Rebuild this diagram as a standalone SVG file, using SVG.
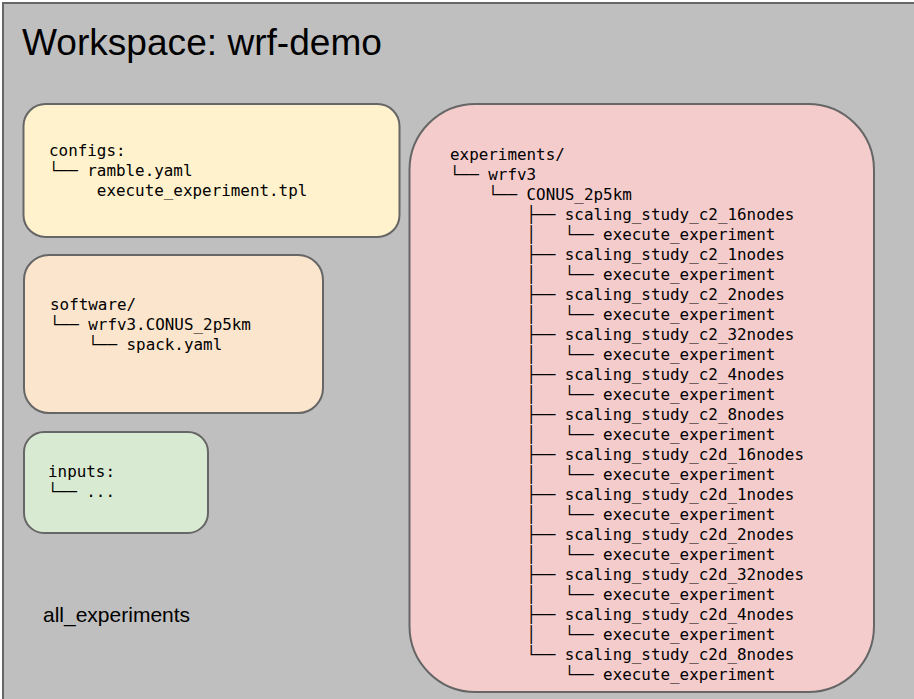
<svg xmlns="http://www.w3.org/2000/svg" width="914" height="699" viewBox="0 0 914 699">
  <style>
    .frame { fill: #bfbfbf; stroke: #666666; stroke-width: 2; }
    .box { stroke: #666666; stroke-width: 2; }
    .title { font-family: "Liberation Sans", Arial, sans-serif; fill: #000000; }
    .tree { font-family: "DejaVu Sans Mono", "Liberation Mono", monospace; font-size: 15.9px; fill: #000000; white-space: pre; }
  </style>

  <!-- workspace frame -->
  <g id="workspace">
    <rect class="frame" x="3" y="3" width="920" height="710"/>
    <text class="title" x="22" y="55" font-size="37.1">Workspace: wrf-demo</text>
    <text class="title" x="43" y="622" font-size="21">all_experiments</text>
  </g>

  <!-- configs directory -->
  <g id="configs">
    <rect class="box" x="23.5" y="104" width="376" height="133" rx="22" fill="#fff2cc"/>
    <text class="tree" xml:space="preserve"><tspan x="49" y="156">configs:</tspan><tspan x="49" y="176">└── ramble.yaml</tspan><tspan x="49" y="196">     execute_experiment.tpl</tspan></text>
  </g>

  <!-- software directory -->
  <g id="software">
    <rect class="box" x="24" y="255" width="299" height="158" rx="25" fill="#fce5cd"/>
    <text class="tree" xml:space="preserve"><tspan x="50" y="310">software/</tspan><tspan x="50" y="330">└── wrfv3.CONUS_2p5km</tspan><tspan x="50" y="350">    └── spack.yaml</tspan></text>
  </g>

  <!-- inputs directory -->
  <g id="inputs">
    <rect class="box" x="24" y="432" width="184" height="101" rx="20" fill="#d9ead3"/>
    <text class="tree" xml:space="preserve"><tspan x="48" y="477">inputs:</tspan><tspan x="48" y="497">└── ...</tspan></text>
  </g>

  <!-- experiments directory -->
  <g id="experiments">
    <rect class="box" x="409.5" y="104" width="464.5" height="588" rx="66" fill="#f4cccc"/>
    <text class="tree" xml:space="preserve"><tspan x="450" y="160">experiments/</tspan><tspan x="450" y="180">└── wrfv3</tspan><tspan x="450" y="200">    └── CONUS_2p5km</tspan><tspan x="450" y="220">        ├── scaling_study_c2_16nodes</tspan><tspan x="450" y="240">        │   └── execute_experiment</tspan><tspan x="450" y="260">        ├── scaling_study_c2_1nodes</tspan><tspan x="450" y="280">        │   └── execute_experiment</tspan><tspan x="450" y="300">        ├── scaling_study_c2_2nodes</tspan><tspan x="450" y="320">        │   └── execute_experiment</tspan><tspan x="450" y="340">        ├── scaling_study_c2_32nodes</tspan><tspan x="450" y="360">        │   └── execute_experiment</tspan><tspan x="450" y="380">        ├── scaling_study_c2_4nodes</tspan><tspan x="450" y="400">        │   └── execute_experiment</tspan><tspan x="450" y="420">        ├── scaling_study_c2_8nodes</tspan><tspan x="450" y="440">        │   └── execute_experiment</tspan><tspan x="450" y="460">        ├── scaling_study_c2d_16nodes</tspan><tspan x="450" y="480">        │   └── execute_experiment</tspan><tspan x="450" y="500">        ├── scaling_study_c2d_1nodes</tspan><tspan x="450" y="520">        │   └── execute_experiment</tspan><tspan x="450" y="540">        ├── scaling_study_c2d_2nodes</tspan><tspan x="450" y="560">        │   └── execute_experiment</tspan><tspan x="450" y="580">        ├── scaling_study_c2d_32nodes</tspan><tspan x="450" y="600">        │   └── execute_experiment</tspan><tspan x="450" y="620">        ├── scaling_study_c2d_4nodes</tspan><tspan x="450" y="640">        │   └── execute_experiment</tspan><tspan x="450" y="660">        └── scaling_study_c2d_8nodes</tspan><tspan x="450" y="680">            └── execute_experiment</tspan></text>
  </g>
</svg>
